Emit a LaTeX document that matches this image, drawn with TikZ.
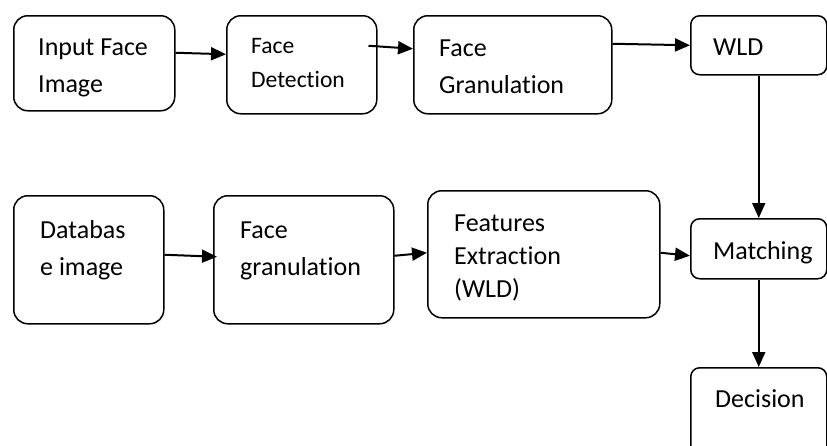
\documentclass[tikz,border=0pt]{standalone}
\usepackage{fontspec}
\setmainfont{Carlito}[Ligatures=NoCommon]
\usetikzlibrary{arrows.meta}
\tikzset{
  box/.style={draw, line width=1.5pt, rounded corners=14pt, anchor=north west, inner sep=0pt},
  sbox/.style={box, rounded corners=9pt},
  txt/.style={anchor=base west, inner sep=0pt, align=left, font=\fontsize{26}{37}\selectfont},
  stxt/.style={txt, font=\fontsize{23.6}{34}\selectfont},
  arr/.style={line width=2pt, -{Triangle[length=15pt,width=13pt]}}
}
\begin{document}
\begin{tikzpicture}[x=1pt,y=-1pt]
\useasboundingbox (0,0) rectangle (827,445);
\clip (0,0) rectangle (827,445);
% boxes
\node[box, minimum width=161pt, minimum height=95pt] (b1) at (13,15) {};
\node[box, minimum width=150pt, minimum height=98pt] (b2) at (226,15) {};
\node[box, minimum width=198pt, minimum height=98pt] (b3) at (413,15) {};
\node[sbox, minimum width=136pt, minimum height=59pt] (b4) at (690,15) {};
\node[box, minimum width=150pt, minimum height=128pt] (d1) at (13,195) {};
\node[box, minimum width=180pt, minimum height=128pt] (d2) at (213,195) {};
\node[box, minimum width=232pt, minimum height=127pt] (d3) at (427,190) {};
\node[sbox, minimum width=136pt, minimum height=60pt] (m) at (690,218) {};
\node[sbox, minimum width=136pt, minimum height=110pt] (dec) at (690,367) {};
% texts (anchor = baseline of the last line)
\node[txt] (t1) at (38,92) {Input Face\\Image};
\node[stxt] (t2) at (251,87) {Face\\Detection};
\node[txt] (t3) at (439,93) {Face\\Granulation};
\node[txt] (t4) at (713,55) {WLD};
\node[txt] (u1) at (40,275) {Databas\\e image};
\node[txt] (u2) at (240,275) {Face\\granulation};
\node[txt, font=\fontsize{26}{33}\selectfont] (u3) at (454,297) {Features\\Extraction\\(WLD)};
\node[txt] (tm) at (713,259) {Matching};
\node[txt] (td) at (715,407) {Decision};
% arrows
\draw[arr] ([yshift=10.5pt]b1.east) -- ([yshift=10.5pt]b2.west);
\draw[arr] ([xshift=-9pt,yshift=19pt]b2.east) -- ([yshift=16pt]b3.west);
\draw[arr] ([yshift=21pt]b3.east) -- ([yshift=0pt]b4.west);
\draw[arr] (b4.south) -- (m.north);
\draw[arr] ([yshift=5pt]d1.east) -- ([xshift=4pt,yshift=3pt]d2.west);
\draw[arr] ([yshift=4pt]d2.east) -- ([yshift=1.5pt]d3.west);
\draw[arr] ([yshift=1.5pt]d3.east) -- ([yshift=-7pt]m.west);
\draw[arr] (m.south) -- (dec.north);
\end{tikzpicture}
\end{document}
